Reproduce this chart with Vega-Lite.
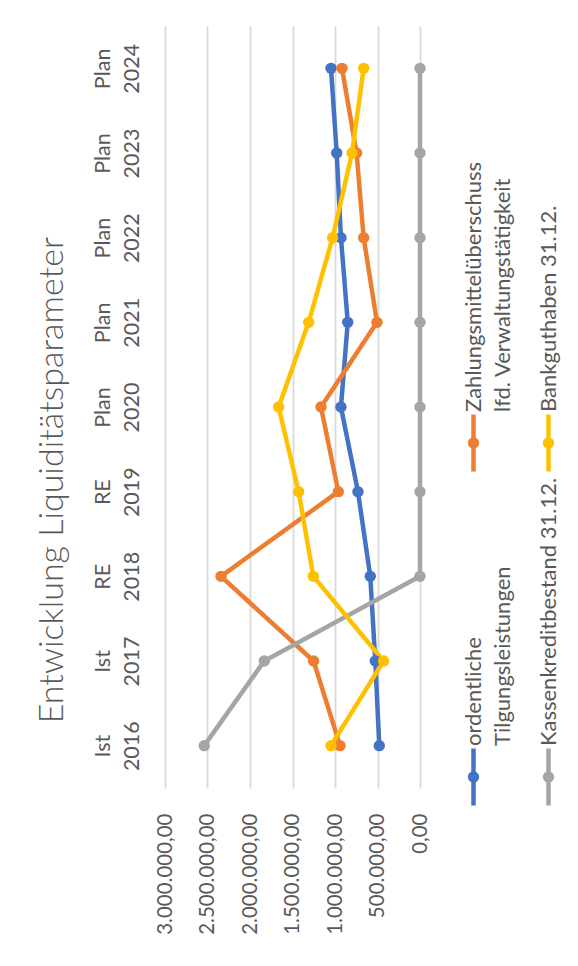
{
  "$schema": "https://vega.github.io/schema/vega-lite/v6.json",
  "background": "white",
  "padding": {"left": 35, "top": 26, "right": 0, "bottom": 0},
  "config": {
    "view": {"stroke": null},
    "font": "Lato",
    "locale": {"number": {"decimal": ",", "thousands": ".", "grouping": [3], "currency": ["", " €"]}},
    "concat": {"spacing": 20}
  },
  "title": {
    "text": "Entwicklung Liquiditätsparameter",
    "orient": "left",
    "anchor": "middle",
    "fontSize": 34,
    "font": "Lato",
    "fontWeight": 300,
    "color": "#595959",
    "offset": 22
  },
  "datasets": {
    "liq": [
      {"period": "Ist 2016", "year": 2016, "series": "ordentliche Tilgungsleistungen", "value": 479000},
      {"period": "Ist 2017", "year": 2017, "series": "ordentliche Tilgungsleistungen", "value": 526000},
      {"period": "RE 2018", "year": 2018, "series": "ordentliche Tilgungsleistungen", "value": 585000},
      {"period": "RE 2019", "year": 2019, "series": "ordentliche Tilgungsleistungen", "value": 730000},
      {"period": "Plan 2020", "year": 2020, "series": "ordentliche Tilgungsleistungen", "value": 930000},
      {"period": "Plan 2021", "year": 2021, "series": "ordentliche Tilgungsleistungen", "value": 850000},
      {"period": "Plan 2022", "year": 2022, "series": "ordentliche Tilgungsleistungen", "value": 930000},
      {"period": "Plan 2023", "year": 2023, "series": "ordentliche Tilgungsleistungen", "value": 980000},
      {"period": "Plan 2024", "year": 2024, "series": "ordentliche Tilgungsleistungen", "value": 1047000},
      {"period": "Ist 2016", "year": 2016, "series": "Zahlungsmittelüberschuss lfd. Verwaltungstätigkeit", "value": 941000},
      {"period": "Ist 2017", "year": 2017, "series": "Zahlungsmittelüberschuss lfd. Verwaltungstätigkeit", "value": 1252000},
      {"period": "RE 2018", "year": 2018, "series": "Zahlungsmittelüberschuss lfd. Verwaltungstätigkeit", "value": 2341000},
      {"period": "RE 2019", "year": 2019, "series": "Zahlungsmittelüberschuss lfd. Verwaltungstätigkeit", "value": 961000},
      {"period": "Plan 2020", "year": 2020, "series": "Zahlungsmittelüberschuss lfd. Verwaltungstätigkeit", "value": 1165000},
      {"period": "Plan 2021", "year": 2021, "series": "Zahlungsmittelüberschuss lfd. Verwaltungstätigkeit", "value": 506000},
      {"period": "Plan 2022", "year": 2022, "series": "Zahlungsmittelüberschuss lfd. Verwaltungstätigkeit", "value": 663000},
      {"period": "Plan 2023", "year": 2023, "series": "Zahlungsmittelüberschuss lfd. Verwaltungstätigkeit", "value": 746000},
      {"period": "Plan 2024", "year": 2024, "series": "Zahlungsmittelüberschuss lfd. Verwaltungstätigkeit", "value": 918000},
      {"period": "Ist 2016", "year": 2016, "series": "Kassenkreditbestand 31.12.", "value": 2538000},
      {"period": "Ist 2017", "year": 2017, "series": "Kassenkreditbestand 31.12.", "value": 1832000},
      {"period": "RE 2018", "year": 2018, "series": "Kassenkreditbestand 31.12.", "value": 0},
      {"period": "RE 2019", "year": 2019, "series": "Kassenkreditbestand 31.12.", "value": 0},
      {"period": "Plan 2020", "year": 2020, "series": "Kassenkreditbestand 31.12.", "value": 0},
      {"period": "Plan 2021", "year": 2021, "series": "Kassenkreditbestand 31.12.", "value": 0},
      {"period": "Plan 2022", "year": 2022, "series": "Kassenkreditbestand 31.12.", "value": 0},
      {"period": "Plan 2023", "year": 2023, "series": "Kassenkreditbestand 31.12.", "value": 0},
      {"period": "Plan 2024", "year": 2024, "series": "Kassenkreditbestand 31.12.", "value": 0},
      {"period": "Ist 2016", "year": 2016, "series": "Bankguthaben 31.12.", "value": 1047000},
      {"period": "Ist 2017", "year": 2017, "series": "Bankguthaben 31.12.", "value": 428000},
      {"period": "RE 2018", "year": 2018, "series": "Bankguthaben 31.12.", "value": 1255000},
      {"period": "RE 2019", "year": 2019, "series": "Bankguthaben 31.12.", "value": 1428000},
      {"period": "Plan 2020", "year": 2020, "series": "Bankguthaben 31.12.", "value": 1663000},
      {"period": "Plan 2021", "year": 2021, "series": "Bankguthaben 31.12.", "value": 1310000},
      {"period": "Plan 2022", "year": 2022, "series": "Bankguthaben 31.12.", "value": 1028000},
      {"period": "Plan 2023", "year": 2023, "series": "Bankguthaben 31.12.", "value": 800000},
      {"period": "Plan 2024", "year": 2024, "series": "Bankguthaben 31.12.", "value": 663000}
    ],
    "legend": [
      {"series": "ordentliche Tilgungsleistungen", "pos": 1, "line1": "ordentliche", "line2": "Tilgungsleistungen"},
      {"series": "Zahlungsmittelüberschuss lfd. Verwaltungstätigkeit", "pos": 2, "line1": "Zahlungsmittelüberschuss", "line2": "lfd. Verwaltungstätigkeit"},
      {"series": "Kassenkreditbestand 31.12.", "pos": 3, "line1": "Kassenkreditbestand 31.12.", "line2": ""},
      {"series": "Bankguthaben 31.12.", "pos": 4, "line1": "Bankguthaben 31.12.", "line2": ""}
    ]
  },
  "hconcat": [
    {
      "width": 255,
      "height": 762,
      "data": {"name": "liq"},
      "encoding": {
        "y": {
          "field": "period",
          "type": "nominal",
          "scale": {"type": "point", "padding": 0.5, "domain": ["Plan 2024", "Plan 2023", "Plan 2022", "Plan 2021", "Plan 2020", "RE 2019", "RE 2018", "Ist 2017", "Ist 2016"]},
          "axis": {
            "title": null,
            "domain": false,
            "ticks": false,
            "grid": false,
            "labelAngle": -90,
            "labelAlign": "center",
            "labelBaseline": "bottom",
            "labelPadding": 51,
            "labelExpr": "split(datum.label, ' ')",
            "labelLineHeight": 29,
            "labelFontSize": 21.5,
            "labelColor": "#595959",
            "labelOverlap": false,
            "labelFlush": false,
            "labelBound": false
          }
        },
        "x": {
          "field": "value",
          "type": "quantitative",
          "scale": {"domain": [0, 3000000], "reverse": true, "nice": false, "zero": true},
          "axis": {
            "title": null,
            "values": [0, 500000, 1000000, 1500000, 2000000, 2500000, 3000000],
            "format": ",.2f",
            "domain": false,
            "ticks": false,
            "grid": true,
            "gridColor": "#d9d9d9",
            "gridWidth": 1.8,
            "labelAngle": -90,
            "labelAlign": "right",
            "labelBaseline": "middle",
            "labelPadding": 25,
            "labelFontSize": 20.5,
            "labelColor": "#595959",
            "labelOverlap": false,
            "labelFlush": false,
            "labelBound": false
          }
        },
        "color": {
          "field": "series",
          "type": "nominal",
          "scale": {
            "domain": ["ordentliche Tilgungsleistungen", "Zahlungsmittelüberschuss lfd. Verwaltungstätigkeit", "Kassenkreditbestand 31.12.", "Bankguthaben 31.12."],
            "range": ["#4472C4", "#ED7D31", "#A5A5A5", "#FFC000"]
          },
          "legend": null
        },
        "order": {"field": "year", "type": "quantitative"}
      },
      "layer": [
        {"mark": {"type": "line", "strokeWidth": 4.5, "strokeCap": "round", "strokeJoin": "round"}},
        {"mark": {"type": "circle", "size": 130, "opacity": 1}}
      ]
    },
    {
      "width": 120,
      "height": 762,
      "data": {"name": "legend"},
      "transform": [
        {"calculate": "datum.pos <= 2 ? 'L' : 'R'", "as": "lx"},
        {"calculate": "datum.pos % 2 == 1 ? 'B' : 'A'", "as": "ly"}
      ],
      "encoding": {
        "x": {"field": "lx", "type": "nominal", "scale": {"type": "point", "domain": ["L", "R"], "padding": 0.3}, "axis": null},
        "y": {"field": "ly", "type": "nominal", "scale": {"type": "point", "domain": ["A", "B"], "padding": 0.6407, "align": 0.9743}, "axis": null},
        "color": {
          "field": "series",
          "type": "nominal",
          "scale": {
            "domain": ["ordentliche Tilgungsleistungen", "Zahlungsmittelüberschuss lfd. Verwaltungstätigkeit", "Kassenkreditbestand 31.12.", "Bankguthaben 31.12."],
            "range": ["#4472C4", "#ED7D31", "#A5A5A5", "#FFC000"]
          },
          "legend": null
        }
      },
      "layer": [
        {"mark": {"type": "tick", "orient": "vertical", "size": 57, "thickness": 4.5, "opacity": 1}},
        {"mark": {"type": "circle", "size": 130, "opacity": 1}},
        {
          "mark": {"type": "text", "angle": 270, "align": "left", "baseline": "middle", "dx": 31, "fontSize": 22, "font": "Lato"},
          "encoding": {"text": {"field": "line1", "type": "nominal"}, "color": {"value": "#595959"}}
        },
        {
          "mark": {"type": "text", "angle": 270, "align": "left", "baseline": "middle", "dx": 31, "dy": 29, "fontSize": 22, "font": "Lato"},
          "encoding": {"text": {"field": "line2", "type": "nominal"}, "color": {"value": "#595959"}}
        }
      ]
    }
  ]
}
